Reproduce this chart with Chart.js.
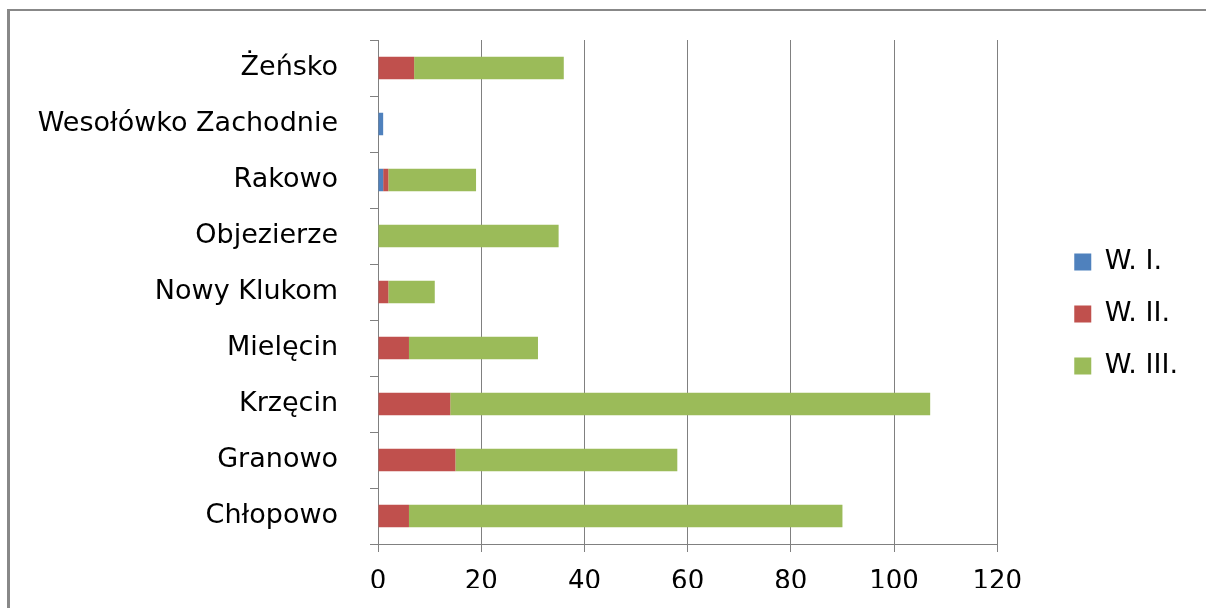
<!DOCTYPE html>
<html>
<head>
<meta charset="utf-8">
<script src="https://cdn.jsdelivr.net/npm/chart.js@4"></script>
<style>
  html, body { margin: 0; padding: 0; background: #fff; }
  #wrap { position: relative; width: 1206px; height: 608px; }
  #frame {
    position: absolute; left: 7px; top: 9px; right: 0; bottom: 0;
    border-left: 3px solid #888; border-top: 2px solid #888;
    pointer-events: none;
  }
</style>
</head>
<body>
<div id="wrap">
  <canvas id="myChart" width="1206" height="608"></canvas>
  <div id="frame"></div>
</div>
<script>
// categories, bottom to top as in the original
const labels = [
    'Chłopowo',
    'Granowo',
    'Krzęcin',
    'Mielęcin',
    'Nowy Klukom',
    'Objezierze',
    'Rakowo',
    'Wesołówko Zachodnie',
    'Żeńsko'
];

const w1 = [0, 0, 0, 0, 0, 0, 1, 1, 0];
const w2 = [6, 15, 14, 6, 2, 0, 1, 0, 7];
const w3 = [84, 43, 93, 25, 9, 35, 17, 0, 29];

const legends = ['W. I.', 'W. II.', 'W. III.'];
const colors = ['#4F81BD', '#C0504D', '#9BBB59'];
const xTicks = [0, 20, 40, 60, 80, 100, 120];

const gray = '#808080';
const font = { family: 'DejaVu Sans', size: 26 };
const bigFont = { family: 'DejaVu Sans', size: 27 };

const data = {
    labels: labels,
    datasets: [w1, w2, w3].map((vals, i) => ({
        label: legends[i],
        data: vals,
        backgroundColor: colors[i],
        borderWidth: 0,
        categoryPercentage: 1,
        barPercentage: 0.4
    }))
};

// vertical axes should not push the plot area down
function noVPad(s) {
    s.paddingTop = 0;
    s.paddingBottom = 0;
}

const config = {
    type: 'bar',
    data: data,
    options: {
        indexAxis: 'y',
        responsive: false,
        animation: false,
        layout: { padding: { top: 40, left: 0, right: 18, bottom: 20 } },
        scales: {
            x: {
                stacked: true,
                min: 0,
                max: 120,
                afterBuildTicks: (s) => { s.ticks = xTicks.map(v => ({ value: v })); },
                afterFit: (s) => { s.height = 44; },
                grid: { color: gray, lineWidth: 1, tickLength: 8 },
                border: { color: gray, width: 1 },
                ticks: { color: '#000', font: font, padding: 15 }
            },
            y: {
                stacked: true,
                reverse: true,
                afterFit: (s) => { s.width = 378; noVPad(s); },
                grid: { drawOnChartArea: false, color: gray, tickLength: 8 },
                border: { color: gray, width: 1 },
                ticks: { color: '#000', font: bigFont, padding: 32 }
            },
            gap: {
                axis: 'y',
                type: 'category',
                position: 'right',
                afterFit: (s) => { s.width = 52; noVPad(s); },
                grid: { display: false },
                border: { display: false },
                ticks: { display: false }
            }
        },
        plugins: {
            legend: {
                position: 'right',
                maxWidth: 150,
                labels: {
                    color: '#000',
                    font: bigFont,
                    boxWidth: 17,
                    boxHeight: 17,
                    padding: 25
                }
            },
            tooltip: { enabled: false }
        }
    }
};

var myChart = new Chart(document.getElementById('myChart'), config);
</script>
</body>
</html>
